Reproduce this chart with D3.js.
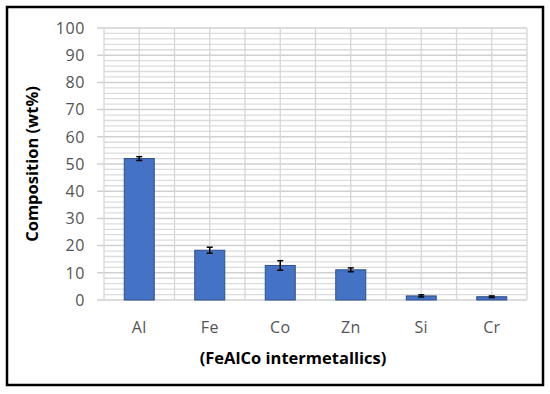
<!DOCTYPE html>
<html>
<head>
<meta charset="utf-8">
<script src="https://cdn.jsdelivr.net/npm/d3@7"></script>
<style>
  body{margin:0;background:#fff;}
  text{font-family:"Open Sans",sans-serif;}
</style>
</head>
<body>
<svg id="chart" width="550" height="394"></svg>
<script>
// data
const elements=["Al","Fe","Co","Zn","Si","Cr"]
const wt=[52.0,18.3,12.7,11.1,1.5,1.2]
const err=[0.7,1.1,1.75,0.7,0.4,0.3]
const yTicks=[0,10,20,30,40,50,60,70,80,90,100]

const svg=d3.select("#chart")
const m={l:104,r:527,t:28,b:300}

// outer frame
svg.append("rect").attr("x",7).attr("y",7).attr("width",536).attr("height",378)
  .attr("fill","#fff").attr("stroke","#000").attr("stroke-width",2.5)

const x=d3.scaleBand().domain(elements).range([m.l,m.r]).padding(0)
const y=d3.scaleLinear().domain([0,100]).range([m.b,m.t])

// minor horizontal grid (every 2)
const g=svg.append("g")
g.selectAll(".minor").data(d3.range(2,100,2).filter(v=>v%10!=0)).enter().append("line")
  .attr("x1",m.l).attr("x2",m.r).attr("y1",d=>y(d)).attr("y2",d=>y(d))
  .attr("stroke","#dcdcdc").attr("stroke-width",1.3)
// major horizontal grid
g.selectAll(".major").data(yTicks).enter().append("line")
  .attr("x1",m.l-7).attr("x2",m.r).attr("y1",d=>y(d)).attr("y2",d=>y(d))
  .attr("stroke","#d0d0d0").attr("stroke-width",1.5)
// vertical grid at band edges and centres
const vx=[]
elements.forEach(e=>{vx.push(x(e));vx.push(x(e)+x.bandwidth()/2)})
vx.push(m.r)
g.selectAll(".vg").data(vx).enter().append("line")
  .attr("x1",d=>d).attr("x2",d=>d).attr("y1",m.t).attr("y2",m.b)
  .attr("stroke","#d6d6d6").attr("stroke-width",1.3)

// y tick labels
svg.selectAll(".yt").data(yTicks).enter().append("text")
  .attr("x",85).attr("y",d=>y(d)).attr("dy","0.36em")
  .attr("text-anchor","end").attr("font-size",16).attr("fill","#545454")
  .attr("letter-spacing",0.6)
  .text(d=>d)

// bars
const bw=30
svg.selectAll(".bar").data(elements).enter().append("rect")
  .attr("x",d=>x(d)+x.bandwidth()/2-bw/2).attr("width",bw)
  .attr("y",(d,i)=>y(wt[i])).attr("height",(d,i)=>y(0)-y(wt[i]))
  .attr("fill","#4472c4").attr("stroke","#2f4f86").attr("stroke-width",1)

// error bars
const eb=svg.append("g").attr("stroke","#000").attr("stroke-width",1.5)
elements.forEach((e,i)=>{
  const cx=x(e)+x.bandwidth()/2
  eb.append("line").attr("x1",cx).attr("x2",cx).attr("y1",y(wt[i]+err[i])).attr("y2",y(wt[i]-err[i]))
  eb.append("line").attr("x1",cx-3).attr("x2",cx+3).attr("y1",y(wt[i]+err[i])).attr("y2",y(wt[i]+err[i]))
  eb.append("line").attr("x1",cx-3).attr("x2",cx+3).attr("y1",y(wt[i]-err[i])).attr("y2",y(wt[i]-err[i]))
})

// x tick labels
svg.selectAll(".xt").data(elements).enter().append("text")
  .attr("x",d=>x(d)+x.bandwidth()/2).attr("y",333)
  .attr("text-anchor","middle").attr("font-size",16).attr("fill","#545454")
  .attr("letter-spacing",0.3)
  .text(d=>d)

// axis titles
svg.append("text").attr("x",293).attr("y",364).attr("text-anchor","middle")
  .attr("font-size",16.5).attr("font-weight","bold").attr("fill","#000")
  .text("(FeAlCo intermetallics)")
svg.append("text").attr("transform","translate(38,164) rotate(-90)")
  .attr("text-anchor","middle").attr("font-size",16.5).attr("font-weight","bold").attr("fill","#000")
  .text("Composition (wt%)")
</script>
</body>
</html>
